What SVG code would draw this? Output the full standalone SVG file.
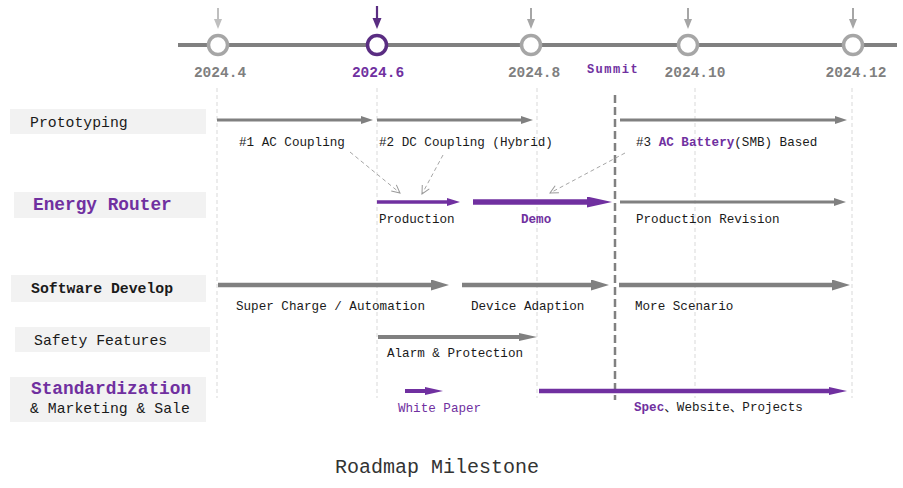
<svg xmlns="http://www.w3.org/2000/svg" width="903" height="488" viewBox="0 0 903 488">
<style>
text{font-family:"Liberation Mono","Courier New","Noto Sans CJK SC",monospace;fill:#1a1a1a}
.date{font-size:14.5px;font-weight:bold;fill:#7f7f7f;text-anchor:middle}
.lbl{font-size:12.6px}
.row{font-size:14.8px}
.big{font-size:17.8px;font-weight:bold;fill:#7030a0}
.pb{font-weight:bold;fill:#7030a0}
.box{fill:#f2f2f2}
.grid{stroke:#d9d9d9;stroke-width:1;stroke-dasharray:4 3}
.g{stroke:#808080;fill:none}
.p{stroke:#7030a0;fill:none}
.dash{stroke:#a6a6a6;stroke-width:1;stroke-dasharray:4 3;fill:none}
</style>
<defs>
<marker id="hg1" markerUnits="userSpaceOnUse" markerWidth="14" markerHeight="10" refX="0" refY="4" orient="auto"><path d="M0,0L12,4L0,8z" fill="#808080"/></marker>
<marker id="hg2" markerUnits="userSpaceOnUse" markerWidth="20" markerHeight="12" refX="0" refY="5.5" orient="auto"><path d="M0,0L18,5.5L0,11z" fill="#808080"/></marker>
<marker id="hg3" markerUnits="userSpaceOnUse" markerWidth="20" markerHeight="10" refX="0" refY="4" orient="auto"><path d="M0,0L18,4L0,8z" fill="#808080"/></marker>
<marker id="hp1" markerUnits="userSpaceOnUse" markerWidth="15" markerHeight="10" refX="0" refY="4" orient="auto"><path d="M0,0L13,4L0,8z" fill="#7030a0"/></marker>
<marker id="hp2" markerUnits="userSpaceOnUse" markerWidth="27" markerHeight="12" refX="0" refY="5.5" orient="auto"><path d="M0,0L25,5.5L0,11z" fill="#7030a0"/></marker>
<marker id="hp3" markerUnits="userSpaceOnUse" markerWidth="20" markerHeight="10" refX="0" refY="4" orient="auto"><path d="M0,0L18,4L0,8z" fill="#7030a0"/></marker>
<marker id="hd" markerUnits="userSpaceOnUse" markerWidth="12" markerHeight="12" refX="9" refY="5" orient="auto"><path d="M1,1L9,5L1,9" fill="none" stroke="#999" stroke-width="1"/></marker>
</defs>

<g id="timeline">
<line x1="178" y1="45" x2="897" y2="45" stroke="#808080" stroke-width="4"/>
<line x1="218" y1="8" x2="218" y2="20" stroke="#bfbfbf" stroke-width="2"/><path d="M214,19L222,19L218,29z" fill="#bfbfbf"/>
<line x1="377" y1="6" x2="377" y2="19" stroke="#5a2d82" stroke-width="2.2"/><path d="M372.5,18L381.5,18L377,29z" fill="#5a2d82"/>
<line x1="531" y1="8" x2="531" y2="20" stroke="#a6a6a6" stroke-width="2"/><path d="M527,19L535,19L531,29z" fill="#a6a6a6"/>
<line x1="688" y1="8" x2="688" y2="20" stroke="#a6a6a6" stroke-width="2"/><path d="M684,19L692,19L688,29z" fill="#a6a6a6"/>
<line x1="853" y1="8" x2="853" y2="20" stroke="#a6a6a6" stroke-width="2"/><path d="M849,19L857,19L853,29z" fill="#a6a6a6"/>
<circle cx="218" cy="45" r="9.5" fill="#fff" stroke="#a6a6a6" stroke-width="3.5"/>
<circle cx="377" cy="45" r="9.5" fill="#fff" stroke="#5a2d82" stroke-width="3.5"/>
<circle cx="531" cy="45" r="9.5" fill="#fff" stroke="#a6a6a6" stroke-width="3.5"/>
<circle cx="688" cy="45" r="9.5" fill="#fff" stroke="#a6a6a6" stroke-width="3.5"/>
<circle cx="853" cy="45" r="9.5" fill="#fff" stroke="#a6a6a6" stroke-width="3.5"/>
<text class="date" x="220" y="77">2024.4</text>
<text class="date" x="378" y="77" style="fill:#7030a0">2024.6</text>
<text class="date" x="534" y="77">2024.8</text>
<text x="613" y="73" style="font-size:12px;font-weight:bold;fill:#7030a0;text-anchor:middle;letter-spacing:1.5px">Summit</text>
<text class="date" x="695" y="77">2024.10</text>
<text class="date" x="856" y="77">2024.12</text>
</g>

<g id="grid">
<line class="grid" x1="217" y1="88" x2="217" y2="398"/>
<line class="grid" x1="377" y1="88" x2="377" y2="398"/>
<line class="grid" x1="537" y1="88" x2="537" y2="398"/>
<line class="grid" x1="695" y1="88" x2="695" y2="398"/>
<line class="grid" x1="852" y1="88" x2="852" y2="398"/>
<line x1="615" y1="95" x2="615" y2="400" stroke="#808080" stroke-width="2.5" stroke-dasharray="8 4"/>
</g>

<g id="row-prototyping">
<rect class="box" x="10" y="109" width="196" height="25"/>
<text class="row" x="30" y="127">Prototyping</text>
</g>
<g id="row-energy-router">
<rect class="box" x="14" y="192" width="192" height="26"/>
<text class="big" x="33" y="210">Energy Router</text>
</g>
<g id="row-software">
<rect class="box" x="11" y="275" width="195" height="27"/>
<text class="row" x="31" y="293" style="font-weight:bold">Software Develop</text>
</g>
<g id="row-safety">
<rect class="box" x="15" y="327" width="195" height="25"/>
<text class="row" x="34" y="345">Safety Features</text>
</g>
<g id="row-standardization">
<rect class="box" x="10" y="377" width="196" height="45"/>
<text class="big" x="31" y="394">Standardization</text>
<text class="row" x="30" y="413">&amp; Marketing &amp; Sale</text>
</g>

<g id="connectors">
<line class="g" x1="217" y1="120" x2="361" y2="120" stroke-width="3" marker-end="url(#hg1)"/>
<line class="g" x1="377" y1="120" x2="521" y2="120" stroke-width="3" marker-end="url(#hg1)"/>
<line class="g" x1="620" y1="120" x2="835" y2="120" stroke-width="3" marker-end="url(#hg1)"/>

<line class="dash" x1="350" y1="152" x2="400" y2="193" marker-end="url(#hd)"/>
<line class="dash" x1="443" y1="155" x2="422" y2="194" marker-end="url(#hd)"/>
<line class="dash" x1="625" y1="153" x2="550" y2="193" marker-end="url(#hd)"/>

<line class="p" x1="377" y1="202" x2="447" y2="202" stroke-width="3.5" marker-end="url(#hp1)"/>
<line class="p" x1="473" y1="202" x2="587" y2="202" stroke-width="5.5" marker-end="url(#hp2)"/>
<line class="g" x1="620" y1="202" x2="834" y2="202" stroke-width="3" marker-end="url(#hg1)"/>

<line class="g" x1="218" y1="285" x2="431" y2="285" stroke-width="4.5" marker-end="url(#hg2)"/>
<line class="g" x1="462" y1="285" x2="591" y2="285" stroke-width="4.5" marker-end="url(#hg2)"/>
<line class="g" x1="619" y1="285" x2="832" y2="285" stroke-width="4.5" marker-end="url(#hg2)"/>

<line class="g" x1="378" y1="337" x2="519" y2="337" stroke-width="4" marker-end="url(#hg3)"/>

<line class="p" x1="405" y1="391" x2="425" y2="391" stroke-width="4" marker-end="url(#hp3)"/>
<line class="p" x1="539" y1="391" x2="829" y2="391" stroke-width="4.5" marker-end="url(#hp3)"/>
</g>

<g id="labels">
<text class="lbl" x="239" y="146">#1 AC Coupling</text>
<text class="lbl" x="379" y="146">#2 DC Coupling (Hybrid)</text>
<text class="lbl" x="636" y="146">#3 <tspan class="pb">AC Battery</tspan>(SMB) Based</text>
<text class="lbl" x="379" y="223">Production</text>
<text class="lbl pb" x="521" y="223">Demo</text>
<text class="lbl" x="636" y="223">Production Revision</text>
<text class="lbl" x="236" y="310">Super Charge / Automation</text>
<text class="lbl" x="471" y="310">Device Adaption</text>
<text class="lbl" x="635" y="310">More Scenario</text>
<text class="lbl" x="387" y="357">Alarm &amp; Protection</text>
<text class="lbl" x="398" y="412" style="fill:#7030a0">White Paper</text>
<text class="lbl" x="634" y="411"><tspan class="pb">Spec</tspan>、Website、Projects</text>
</g>

<text x="437" y="473" style="font-size:20px;fill:#333;text-anchor:middle">Roadmap Milestone</text>
</svg>
